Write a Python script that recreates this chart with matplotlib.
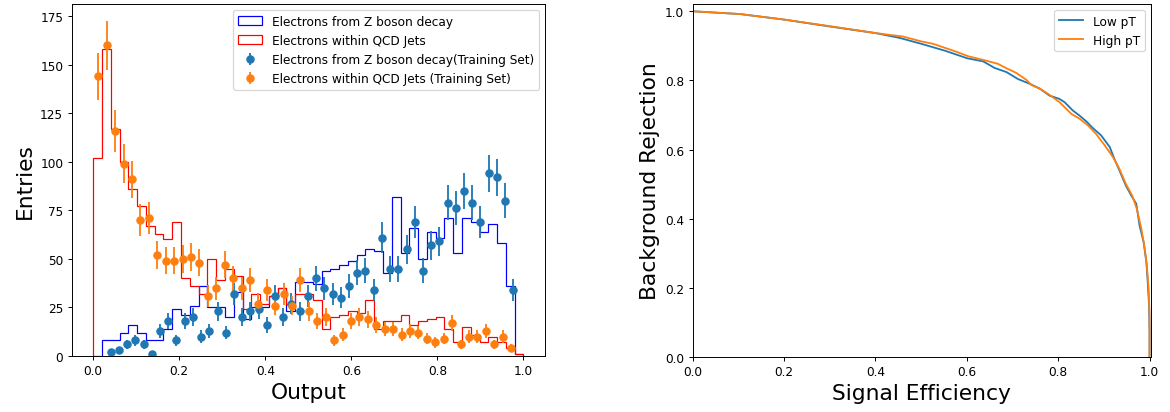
import matplotlib
matplotlib.use("Agg")
import matplotlib.pyplot as plt
import numpy as np

# histogram binning (same for both test-set histograms)
hist_edges = np.linspace(0, 1, 50)

# test-set classifier output, counts per bin
sig_hist = [0, 8, 8, 12, 16, 12, 8, 8, 14, 24,
            21, 26, 36, 25, 25, 20, 33, 19, 25, 25,
            31, 35, 23, 38, 38, 37, 44, 45, 47, 49,
            52, 55, 54, 43, 82, 53, 66, 50, 64, 61,
            71, 53, 71, 69, 64, 68, 58, 36, 1]
bkg_hist = [102, 158, 117, 100, 86, 77, 67, 63, 60, 69,
            40, 36, 32, 50, 39, 45, 41, 24, 32, 27,
            31, 35, 27, 32, 32, 29, 14, 20, 21, 23,
            22, 29, 14, 18, 18, 21, 16, 18, 19, 20,
            14, 7, 15, 11, 7, 10, 7, 4, 1]

# training set, 50 bins between min and max of each sample
sig_train_range = (0.031, 0.986)
bkg_train_range = (0.002, 0.981)
sig_train = [2, 3, 6, 8, 6, 1, 13, 18, 8, 18,
             20, 10, 13, 23, 12, 32, 20, 23, 24, 16,
             31, 20, 27, 23, 31, 40, 35, 32, 30, 36,
             43, 44, 34, 61, 45, 45, 55, 69, 44, 57,
             59, 79, 76, 85, 79, 69, 94, 92, 80, 34]
bkg_train = [144, 160, 116, 99, 91, 70, 71, 52, 49, 49,
             50, 51, 48, 31, 35, 47, 40, 35, 39, 27,
             34, 26, 32, 26, 39, 23, 18, 20, 8, 11,
             18, 20, 19, 16, 14, 14, 11, 13, 12, 9,
             7, 9, 17, 6, 10, 10, 13, 6, 10, 4]

# ROC curves
low_eff = [0.0, 0.1035, 0.2, 0.3, 0.4, 0.453, 0.5, 0.552, 0.601, 0.636,
           0.661, 0.687, 0.712, 0.738, 0.76, 0.781, 0.802, 0.814, 0.832, 0.847,
           0.862, 0.876, 0.894, 0.913, 0.923, 0.934, 0.948, 0.96, 0.971, 0.978,
           0.987, 0.993, 0.996, 0.999, 1.0, 1.0]
low_rej = [1.0, 0.992, 0.976, 0.956, 0.937, 0.923, 0.906, 0.886, 0.864, 0.855,
           0.836, 0.824, 0.804, 0.79, 0.776, 0.756, 0.747, 0.737, 0.713, 0.698,
           0.681, 0.662, 0.641, 0.607, 0.573, 0.54, 0.496, 0.467, 0.443, 0.381,
           0.332, 0.275, 0.217, 0.149, 0.072, 0.0]
high_eff = [0.0, 0.1035, 0.2, 0.3, 0.4, 0.46, 0.5, 0.526, 0.577, 0.603,
            0.643, 0.668, 0.687, 0.708, 0.73, 0.741, 0.76, 0.778, 0.803, 0.829,
            0.847, 0.865, 0.883, 0.902, 0.92, 0.934, 0.948, 0.962, 0.972, 0.982,
            0.989, 0.994, 0.998, 1.0, 1.0]
high_rej = [1.0, 0.992, 0.976, 0.957, 0.937, 0.927, 0.913, 0.906, 0.883, 0.87,
            0.857, 0.848, 0.835, 0.822, 0.802, 0.787, 0.776, 0.761, 0.737, 0.703,
            0.689, 0.67, 0.645, 0.612, 0.578, 0.544, 0.501, 0.467, 0.429, 0.371,
            0.318, 0.265, 0.197, 0.12, 0.0]

DPI = 87
fig = plt.figure(figsize=(1170 / DPI, 413 / DPI), dpi=DPI)
ax1 = fig.add_axes([0.0613, 0.1356, 0.4045, 0.8523])
ax2 = fig.add_axes([0.592, 0.1332, 0.3917, 0.8555])

centers = 0.5 * (hist_edges[1:] + hist_edges[:-1])
ax1.hist(centers, bins=hist_edges, weights=sig_hist, histtype='step',
         color='blue', label='Electrons from Z boson decay')
ax1.hist(centers, bins=hist_edges, weights=bkg_hist, histtype='step',
         color='red', label='Electrons within QCD Jets')

e = np.linspace(*sig_train_range, 51)
ax1.errorbar(0.5 * (e[1:] + e[:-1]), sig_train, yerr=np.sqrt(sig_train),
             fmt='o', label='Electrons from Z boson decay(Training Set)')
e = np.linspace(*bkg_train_range, 51)
ax1.errorbar(0.5 * (e[1:] + e[:-1]), bkg_train, yerr=np.sqrt(bkg_train),
             fmt='o', label='Electrons within QCD Jets (Training Set)')

ax1.set_xlim(-0.05, 1.05)
ax1.set_xlabel('Output', fontsize=18)
ax1.set_ylabel('Entries', fontsize=18)
ax1.legend(loc='upper right')

ax2.plot(low_eff, low_rej, label='Low pT')
ax2.plot(high_eff, high_rej, label='High pT')
ax2.set_xlim(0, 1.003)
ax2.set_ylim(0, 1.022)
ax2.set_xlabel('Signal Efficiency', fontsize=18)
ax2.set_ylabel('Background Rejection', fontsize=18)
ax2.legend(loc='upper right')

fig.savefig('out.png', dpi=DPI)
